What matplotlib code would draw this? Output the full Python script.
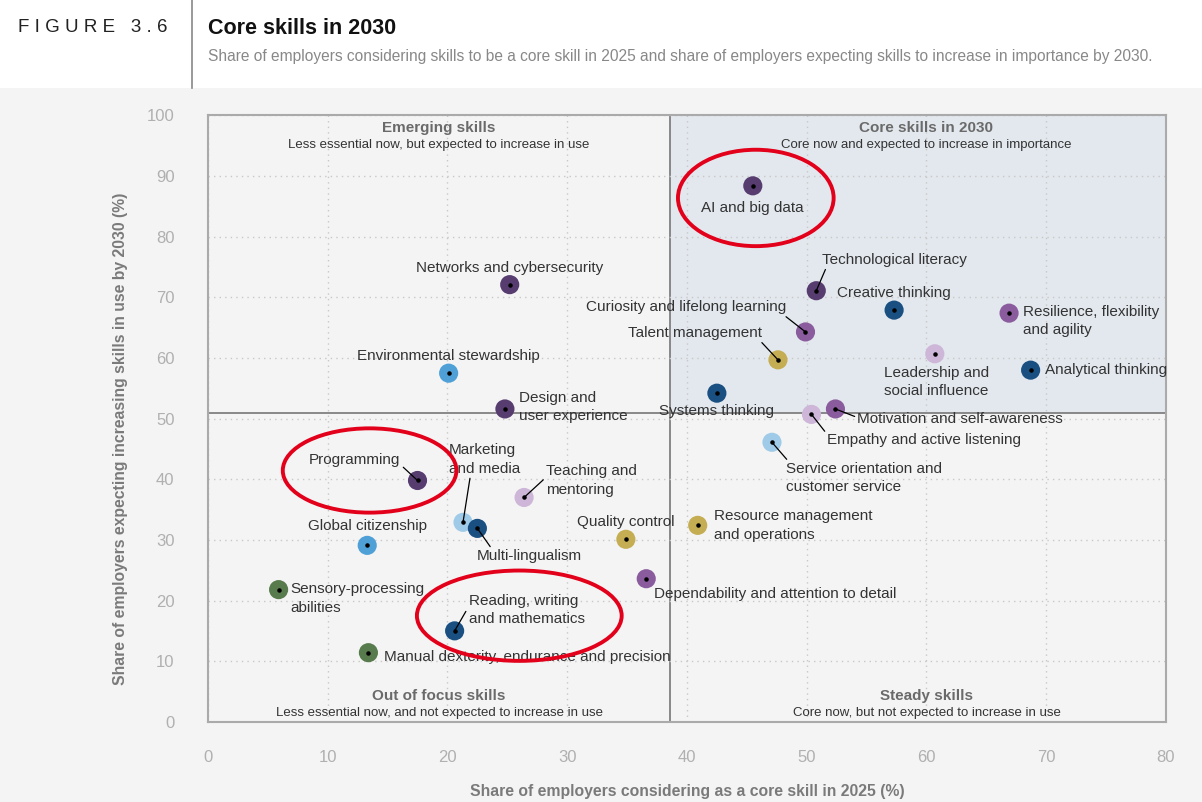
import numpy as np
import matplotlib
matplotlib.use("Agg")
import matplotlib.pyplot as plt
from matplotlib.patches import Ellipse, Rectangle
from matplotlib.lines import Line2D

plt.rcParams["font.family"] = ["Liberation Sans", "DejaVu Sans"]

# --- data ---
skills = [
    "AI and big data", "Networks and cybersecurity", "Technological literacy",
    "Creative thinking", "Resilience, flexibility\nand agility",
    "Curiosity and lifelong learning", "Leadership and\nsocial influence",
    "Talent management", "Analytical thinking", "Environmental stewardship",
    "Systems thinking", "Design and\nuser experience", "Motivation and self-awareness",
    "Empathy and active listening", "Service orientation and\ncustomer service",
    "Programming", "Teaching and\nmentoring", "Marketing\nand media",
    "Multi-lingualism", "Resource management\nand operations", "Quality control",
    "Global citizenship", "Dependability and attention to detail",
    "Sensory-processing\nabilities", "Reading, writing\nand mathematics",
    "Manual dexterity, endurance and precision",
]
core_2025 = [45.5, 25.2, 50.8, 57.3, 66.9, 49.9, 60.7, 47.6, 68.7, 20.1,
             42.5, 24.8, 52.4, 50.4, 47.1, 17.5, 26.4, 21.3, 22.5, 40.9,
             34.9, 13.3, 36.6, 5.9, 20.6, 13.4]
increase_2030 = [88.4, 72.1, 71.1, 67.9, 67.4, 64.3, 60.7, 59.7, 58.0, 57.5,
                 54.2, 51.6, 51.6, 50.7, 46.1, 39.8, 37.0, 32.9, 31.9, 32.4,
                 30.1, 29.1, 23.6, 21.8, 15.0, 11.4]
group = ["tech", "tech", "tech", "cog", "self", "self", "eng", "mgmt", "cog", "env",
         "cog", "tech", "self", "eng", "srv", "tech", "eng", "srv",
         "cog", "mgmt", "mgmt", "env", "self", "phys", "cog", "phys"]
x_cut, y_cut = 38.6, 51.0
highlighted = ["AI and big data", "Programming", "Reading, writing\nand mathematics"]

# --- styling ---
colors = {"tech": "#573c70", "self": "#8a5c9e", "eng": "#cdb6d8", "cog": "#1a4f82",
          "env": "#4fa0d6", "srv": "#9fcbe8", "mgmt": "#c4ad52", "phys": "#577b4c"}

# label offsets in pixels: (dx, dy, ha, va, relpos of leader line or None)
label_pos = {
    "AI and big data": (0, -22, "center", "center", None),
    "Networks and cybersecurity": (0, 17, "center", "center", None),
    "Technological literacy": (6, 31, "left", "center", (0.03, 0.0)),
    "Creative thinking": (0, 17, "center", "center", None),
    "Resilience, flexibility\nand agility": (14, -8, "left", "center", None),
    "Curiosity and lifelong learning": (-19, 25, "right", "center", (0.98, 0.0)),
    "Leadership and\nsocial influence": (-51, -28, "left", "center", None),
    "Talent management": (-16, 27, "right", "center", (0.98, 0.0)),
    "Analytical thinking": (14, 0, "left", "center", None),
    "Environmental stewardship": (0, 17, "center", "center", None),
    "Systems thinking": (0, -18, "center", "center", None),
    "Design and\nuser experience": (14, 2, "left", "center", None),
    "Motivation and self-awareness": (22, -10, "left", "center", (0.0, 0.6)),
    "Empathy and active listening": (16, -26, "left", "center", (0.0, 0.9)),
    "Service orientation and\ncustomer service": (14, -36, "left", "center", (0.02, 1.0)),
    "Programming": (-17, 20, "right", "center", (1.0, 0.2)),
    "Teaching and\nmentoring": (22, 17, "left", "center", (0.0, 0.6)),
    "Marketing\nand media": (-14, 63, "left", "center", (0.3, 0.0)),
    "Multi-lingualism": (-1, -28, "left", "center", (0.15, 1.0)),
    "Resource management\nand operations": (16, 0, "left", "center", None),
    "Quality control": (0, 17, "center", "center", None),
    "Global citizenship": (0, 19, "center", "center", None),
    "Dependability and attention to detail": (8, -15, "left", "center", None),
    "Sensory-processing\nabilities": (12, -9, "left", "center", None),
    "Reading, writing\nand mathematics": (14, 21, "left", "center", (0.0, 0.6)),
    "Manual dexterity, endurance and precision": (16, -4, "left", "center", None),
}
# red ellipse around highlighted skills: (dx, dy, width, height) in data units
ellipse_geo = {
    "AI and big data": (0.25, -2.0, 13.0, 15.9),
    "Programming": (-4.0, 1.65, 14.5, 13.9),
    "Reading, writing\nand mathematics": (5.4, 2.5, 17.1, 14.9),
}

fig = plt.figure(figsize=(12.02, 8.02), dpi=100, facecolor="#f4f4f4")

# header
fig.patches.append(Rectangle((0, 0.890), 1, 0.11, transform=fig.transFigure,
                             facecolor="white", edgecolor="none", zorder=0))
fig.add_artist(Line2D([0.16, 0.16], [0.890, 1.0], transform=fig.transFigure,
                      color="#888888", lw=1.2))
fig.text(0.015, 0.966, "F I G U R E   3 . 6", fontsize=13.5, color="#222222",
         va="center", ha="left")
fig.text(0.173, 0.965, "Core skills in 2030", fontsize=15.5, fontweight="bold",
         color="#111111", va="center", ha="left")
fig.text(0.173, 0.930, "Share of employers considering skills to be a core skill in 2025 "
         "and share of employers expecting skills to increase in importance by 2030.",
         fontsize=11.2, color="#888888", va="center", ha="left")

ax = fig.add_axes([0.173, 0.100, 0.797, 0.756])
ax.set_facecolor("#f4f4f4")
ax.set_xlim(0, 80)
ax.set_ylim(0, 100)

# core quadrant shading + dividers
ax.add_patch(Rectangle((x_cut, y_cut), 80 - x_cut, 100 - y_cut, facecolor="#e3e8ee",
                       edgecolor="none", zorder=0))
ax.axvline(x_cut, color="#777777", lw=1.2, zorder=1)
ax.axhline(y_cut, color="#777777", lw=1.2, zorder=1)

ax.set_xticks(np.arange(0, 81, 10))
ax.set_yticks(np.arange(0, 101, 10))
ax.grid(True, color="#c8c8c8", linestyle=(0, (1, 3)), lw=1.0, zorder=0.5)
ax.tick_params(length=0, colors="#b0b0b0", labelsize=12)
ax.tick_params(axis="x", pad=20)
ax.tick_params(axis="y", pad=24)
for lab in ax.get_xticklabels() + ax.get_yticklabels():
    lab.set_color("#b0b0b0")
for sp in ax.spines.values():
    sp.set_color("#aaaaaa")
    sp.set_linewidth(1.5)

ax.set_xlabel("Share of employers considering as a core skill in 2025 (%)",
              fontsize=11.3, fontweight="bold", color="#7a7a7a", labelpad=14)
ax.set_ylabel("Share of employers expecting increasing skills in use by 2030 (%)",
              fontsize=11.3, fontweight="bold", color="#7a7a7a")
ax.yaxis.set_label_coords(-0.083, 0.466)

# quadrant titles
quads = [
    (x_cut / 2, 97.9, "Emerging skills", "Less essential now, but expected to increase in use"),
    ((x_cut + 80) / 2 + 0.7, 97.9, "Core skills in 2030", "Core now and expected to increase in importance"),
    (x_cut / 2, 4.3, "Out of focus skills", "Less essential now, and not expected to increase in use"),
    ((x_cut + 80) / 2 + 0.7, 4.3, "Steady skills", "Core now, but not expected to increase in use"),
]
for qx, qy, head, sub in quads:
    ax.text(qx, qy, head, ha="center", va="center", fontsize=11, fontweight="bold",
            color="#6a6a6a")
    ax.text(qx, qy - 2.8, sub, ha="center", va="center", fontsize=9.5, color="#333333")

# points
ax.scatter(core_2025, increase_2030, s=190, c=[colors[g] for g in group],
           edgecolors="none", zorder=3)
ax.scatter(core_2025, increase_2030, s=5, c="black", zorder=4)

# labels
for name, x, y in zip(skills, core_2025, increase_2030):
    dx, dy, ha, va, rel = label_pos[name]
    kw = {}
    if rel is not None:
        kw["arrowprops"] = dict(arrowstyle="-", color="black", lw=0.9,
                                shrinkA=0, shrinkB=0, relpos=rel)
    ax.annotate(name, (x, y), xytext=(dx, dy), textcoords="offset pixels",
                ha=ha, va=va, fontsize=11, color="#333333", linespacing=1.4,
                zorder=5, **kw)

# red highlight ellipses
for name, x, y in zip(skills, core_2025, increase_2030):
    if name in highlighted:
        ex, ey, ew, eh = ellipse_geo[name]
        ax.add_patch(Ellipse((x + ex, y + ey), ew, eh, fill=False,
                             edgecolor="#e2001a", lw=2.8, zorder=6))

fig.savefig("out.png", dpi=100, facecolor=fig.get_facecolor())
